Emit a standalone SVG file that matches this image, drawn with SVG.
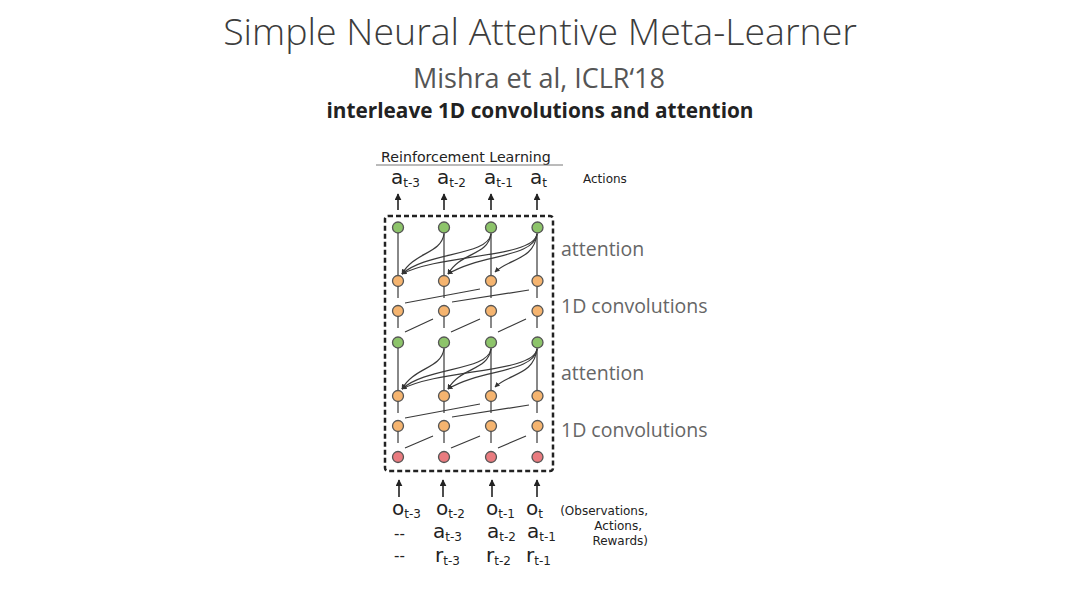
<svg xmlns="http://www.w3.org/2000/svg" width="1080" height="607" viewBox="0 0 1080 607">
<style>
.title{font-family:"Open Sans","Liberation Sans",sans-serif;font-weight:300;fill:#3c3c3c;text-anchor:middle}
.sub{font-family:"Open Sans","Liberation Sans",sans-serif;fill:#555;text-anchor:middle}
.bold{font-family:"Open Sans","Liberation Sans",sans-serif;font-weight:bold;fill:#222;text-anchor:middle}
.lbl{font-family:"Open Sans","Liberation Sans",sans-serif;fill:#666;font-size:19.5px}
.dv{font-family:"DejaVu Sans",sans-serif;fill:#222}
.var{font-size:20px}
.s{font-size:12px}
.sm{font-family:"DejaVu Sans",sans-serif;fill:#222;font-size:12px}
.g{fill:#8dc46a}.o{fill:#f5b46f}.r{fill:#e97b7f}
circle{stroke:#555;stroke-width:1.3}
.ln{stroke:#3a3a3a;stroke-width:1.2;fill:none}
.ar{stroke:#222;stroke-width:1.6;fill:none}
</style>
<defs>
<marker id="ah" viewBox="0 0 10 10" refX="9" refY="5" markerWidth="5" markerHeight="5" orient="auto" markerUnits="userSpaceOnUse"><path d="M0,0 L10,5 L0,10 z" fill="#333"/></marker>
<marker id="up" viewBox="0 0 10 10" refX="9" refY="5" markerWidth="7" markerHeight="7" orient="auto" markerUnits="userSpaceOnUse"><path d="M0,0 L10,5 L0,10 z" fill="#222"/></marker>
</defs>
<rect width="1080" height="607" fill="#fff"/>
<text class="title" x="540" y="45" font-size="37.5">Simple Neural Attentive Meta-Learner</text>
<text class="sub" x="539" y="88" font-size="27">Mishra et al, ICLR‘18</text>
<text class="bold" x="540" y="118" font-size="20.8">interleave 1D convolutions and attention</text>

<g id="header">
<text class="dv" x="381" y="162" font-size="14.2">Reinforcement Learning</text>
<line x1="376" y1="165" x2="563" y2="165" stroke="#777" stroke-width="1"/>
<text class="dv" x="583" y="183" font-size="12">Actions</text>
</g>
<g id="outputs">
<text class="dv" x="391" y="184"><tspan class="var">a</tspan><tspan class="s" dy="3">t-3</tspan></text>
<text class="dv" x="437" y="184"><tspan class="var">a</tspan><tspan class="s" dy="3">t-2</tspan></text>
<text class="dv" x="484" y="184"><tspan class="var">a</tspan><tspan class="s" dy="3">t-1</tspan></text>
<text class="dv" x="530" y="184"><tspan class="var">a</tspan><tspan class="s" dy="3">t</tspan></text>
</g>
<g id="side-labels">
<text class="lbl" x="561" y="256">attention</text>
<text class="lbl" x="561" y="313">1D convolutions</text>
<text class="lbl" x="561" y="380">attention</text>
<text class="lbl" x="561" y="437">1D convolutions</text>
</g>

<g id="connectors">
<line class="ar" x1="398" y1="210" x2="398" y2="194" marker-end="url(#up)"/>
<line class="ar" x1="444" y1="210" x2="444" y2="194" marker-end="url(#up)"/>
<line class="ar" x1="491" y1="210" x2="491" y2="194" marker-end="url(#up)"/>
<line class="ar" x1="537" y1="210" x2="537" y2="194" marker-end="url(#up)"/>
<line class="ar" x1="399" y1="497" x2="399" y2="480" marker-end="url(#up)"/>
<line class="ar" x1="443" y1="497" x2="443" y2="480" marker-end="url(#up)"/>
<line class="ar" x1="492" y1="497" x2="492" y2="480" marker-end="url(#up)"/>
<line class="ar" x1="537" y1="497" x2="537" y2="480" marker-end="url(#up)"/>
<path class="ln" d="M398 233V275M444 233V275M491 233V275M537 233V275"/>
<path class="ln" d="M398 348V390M444 348V390M491 348V390M537 348V390"/>
<path class="ln" d="M398 287V298M444 287V298M491 287V298M537 287V298"/>
<path class="ln" d="M398 317V328M444 317V328M491 317V328M537 317V328"/>
<path class="ln" d="M398 402V413M444 402V413M491 402V413M537 402V413"/>
<path class="ln" d="M398 432V443M444 432V443M491 432V443M537 432V443"/>
<path class="ln" d="M405 303L480 289M452 302L529 290"/>
<path class="ln" d="M405 418L480 404M452 417L529 405"/>
<path class="ln" d="M405 332L433 319M451 332L480 319M498 332L526 319"/>
<path class="ln" d="M405 448L433 436M451 448L480 436M498 448L526 436"/>
<g class="ln" marker-end="url(#ah)">
<path d="M444 234C441 254 414 252 402 274"/>
<path d="M491 234C488 256 426 252 402 274"/>
<path d="M491 234C488 256 460 252 448 274"/>
<path d="M537 234C534 258 440 254 402 274"/>
<path d="M537 234C534 258 480 254 448 274"/>
<path d="M537 234C534 260 510 258 495 272"/>
</g>
<g class="ln" marker-end="url(#ah)">
<path d="M444 349C441 369 414 367 402 389"/>
<path d="M491 349C488 371 426 367 402 389"/>
<path d="M491 349C488 371 460 367 448 389"/>
<path d="M537 349C534 373 440 369 402 389"/>
<path d="M537 349C534 373 480 369 448 389"/>
<path d="M537 349C534 375 510 373 495 387"/>
</g>
</g>

<rect id="frame" x="385" y="216" width="168" height="255" rx="3" fill="none" stroke="#222" stroke-width="2.5" stroke-dasharray="5 3"/>

<g id="row-att1">
<circle class="g" cx="398" cy="227.5" r="5.5"/><circle class="g" cx="444" cy="227.5" r="5.5"/><circle class="g" cx="491" cy="227.5" r="5.5"/><circle class="g" cx="537.5" cy="227.5" r="5.5"/>
</g>
<g id="row-conv1b">
<circle class="o" cx="398" cy="281" r="5.5"/><circle class="o" cx="444" cy="281" r="5.5"/><circle class="o" cx="491" cy="281" r="5.5"/><circle class="o" cx="537.5" cy="281" r="5.5"/>
</g>
<g id="row-conv1a">
<circle class="o" cx="398" cy="311" r="5.5"/><circle class="o" cx="444" cy="311" r="5.5"/><circle class="o" cx="491" cy="311" r="5.5"/><circle class="o" cx="537.5" cy="311" r="5.5"/>
</g>
<g id="row-att2">
<circle class="g" cx="398" cy="342.5" r="5.5"/><circle class="g" cx="444" cy="342.5" r="5.5"/><circle class="g" cx="491" cy="342.5" r="5.5"/><circle class="g" cx="537.5" cy="342.5" r="5.5"/>
</g>
<g id="row-conv2b">
<circle class="o" cx="398" cy="396" r="5.5"/><circle class="o" cx="444" cy="396" r="5.5"/><circle class="o" cx="491" cy="396" r="5.5"/><circle class="o" cx="537.5" cy="396" r="5.5"/>
</g>
<g id="row-conv2a">
<circle class="o" cx="398" cy="426" r="5.5"/><circle class="o" cx="444" cy="426" r="5.5"/><circle class="o" cx="491" cy="426" r="5.5"/><circle class="o" cx="537.5" cy="426" r="5.5"/>
</g>
<g id="row-input">
<circle class="r" cx="398" cy="457" r="5.5"/><circle class="r" cx="444" cy="457" r="5.5"/><circle class="r" cx="491" cy="457" r="5.5"/><circle class="r" cx="537.5" cy="457" r="5.5"/>
</g>

<g id="inputs">
<text class="dv" x="392" y="515"><tspan class="var">o</tspan><tspan class="s" dy="3">t-3</tspan></text>
<text class="dv" x="436" y="515"><tspan class="var">o</tspan><tspan class="s" dy="3">t-2</tspan></text>
<text class="dv" x="486" y="515"><tspan class="var">o</tspan><tspan class="s" dy="3">t-1</tspan></text>
<text class="dv" x="526" y="515"><tspan class="var">o</tspan><tspan class="s" dy="3">t</tspan></text>
<text class="dv" x="394" y="539" font-size="15">--</text>
<text class="dv" x="433" y="538"><tspan class="var">a</tspan><tspan class="s" dy="3">t-3</tspan></text>
<text class="dv" x="487" y="538"><tspan class="var">a</tspan><tspan class="s" dy="3">t-2</tspan></text>
<text class="dv" x="527" y="538"><tspan class="var">a</tspan><tspan class="s" dy="3">t-1</tspan></text>
<text class="dv" x="394" y="561" font-size="15">--</text>
<text class="dv" x="435" y="562"><tspan class="var">r</tspan><tspan class="s" dy="3">t-3</tspan></text>
<text class="dv" x="486" y="562"><tspan class="var">r</tspan><tspan class="s" dy="3">t-2</tspan></text>
<text class="dv" x="526" y="562"><tspan class="var">r</tspan><tspan class="s" dy="3">t-1</tspan></text>
<text class="sm" x="648" y="515" text-anchor="end">(Observations,</text>
<text class="sm" x="642" y="530" text-anchor="end">Actions,</text>
<text class="sm" x="648" y="545" text-anchor="end">Rewards)</text>
</g>
</svg>
